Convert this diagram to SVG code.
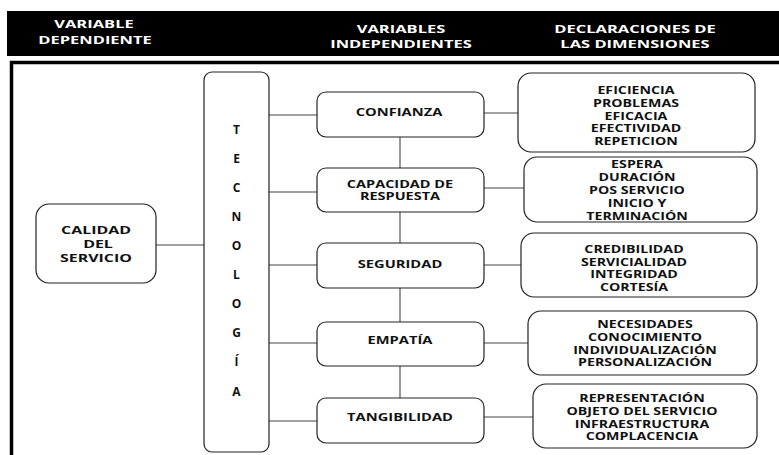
<svg xmlns="http://www.w3.org/2000/svg" width="779" height="455" viewBox="0 0 779 455">
<style>
text{font-family:"Open Sans","DejaVu Sans",sans-serif;font-weight:700;text-anchor:middle;fill:#111}
.h{fill:#fff;font-size:11px}
.c{font-size:11px}
.t{font-size:12px}
.m{font-size:10.5px}
.m2{font-size:10px}
.r{font-size:9.8px}
.box{fill:#fff;stroke:#222;stroke-width:1.2}
.ln{stroke:#444;stroke-width:1.1;fill:none}
</style>
<rect x="0" y="0" width="779" height="455" fill="#fff"/>
<g id="header">
<rect x="7" y="11" width="772" height="45" fill="#000"/>
<text class="h" transform="translate(94,28.3) scale(1.5,1)">VARIABLE</text>
<text class="h" transform="translate(95,44.3) scale(1.5,1)">DEPENDIENTE</text>
<text class="h" transform="translate(401,32.7) scale(1.5,1)">VARIABLES</text>
<text class="h" transform="translate(401,48.3) scale(1.5,1)">INDEPENDIENTES</text>
<text class="h" transform="translate(635,32.7) scale(1.5,1)">DECLARACIONES DE</text>
<text class="h" transform="translate(635,48.3) scale(1.5,1)">LAS DIMENSIONES</text>
</g>
<path id="frame" d="M11.5 455V62.5H779" fill="none" stroke="#000" stroke-width="3.5"/>
<g id="connectors" class="ln">
<line x1="156" y1="245" x2="204" y2="245"/>
<line x1="269" y1="115" x2="317" y2="115"/>
<line x1="269" y1="192" x2="317" y2="192"/>
<line x1="269" y1="265" x2="317" y2="265"/>
<line x1="269" y1="343" x2="317" y2="343"/>
<line x1="269" y1="421" x2="317" y2="421"/>
<line x1="400" y1="137" x2="400" y2="168"/>
<line x1="400" y1="212" x2="400" y2="243"/>
<line x1="400" y1="288" x2="400" y2="322"/>
<line x1="400" y1="366" x2="400" y2="398"/>
<line x1="484" y1="113" x2="518" y2="113"/>
<line x1="484" y1="188" x2="524" y2="188"/>
<line x1="484" y1="265" x2="528" y2="265"/>
<line x1="484" y1="343" x2="528" y2="343"/>
<line x1="484" y1="417" x2="533" y2="417"/>
</g>
<g id="calidad">
<rect class="box" x="36" y="204" width="120" height="79" rx="13"/>
<text class="c" transform="translate(96,233.5) scale(1.45,1)">CALIDAD</text>
<text class="c" transform="translate(98,247.5) scale(1.45,1)">DEL</text>
<text class="c" transform="translate(96,261.5) scale(1.45,1)">SERVICIO</text>
</g>
<g id="tecnologia">
<rect class="box" x="204" y="72" width="65" height="380" rx="8"/>
<text class="t" x="236.5" y="133.5">T</text>
<text class="t" x="236.5" y="162.5">E</text>
<text class="t" x="236.5" y="191.5">C</text>
<text class="t" x="236.5" y="220.5">N</text>
<text class="t" x="236.5" y="249.5">O</text>
<text class="t" x="236.5" y="278.5">L</text>
<text class="t" x="236.5" y="307.5">O</text>
<text class="t" x="236.5" y="336.5">G</text>
<text class="t" x="236.5" y="365.5">Í</text>
<text class="t" x="236.5" y="395.5">A</text>
</g>
<g id="confianza">
<rect class="box" x="317" y="92" width="167" height="45" rx="9"/>
<text class="m" transform="translate(399,116) scale(1.4,1)">CONFIANZA</text>
</g>
<g id="capacidad">
<rect class="box" x="317" y="168" width="167" height="44" rx="9"/>
<text class="m2" transform="translate(400,187.5) scale(1.45,1)">CAPACIDAD DE</text>
<text class="m2" transform="translate(400,200) scale(1.45,1)">RESPUESTA</text>
</g>
<g id="seguridad">
<rect class="box" x="317" y="243" width="167" height="45" rx="9"/>
<text class="m" transform="translate(400,268) scale(1.4,1)">SEGURIDAD</text>
</g>
<g id="empatia">
<rect class="box" x="317" y="322" width="167" height="44" rx="9"/>
<text class="m" transform="translate(400,344) scale(1.4,1)">EMPATÍA</text>
</g>
<g id="tangibilidad">
<rect class="box" x="317" y="398" width="167" height="45" rx="9"/>
<text class="m" transform="translate(400,421) scale(1.4,1)">TANGIBILIDAD</text>
</g>
<g id="dim-confianza">
<rect class="box" x="518" y="73" width="237" height="79" rx="13"/>
<text class="r" transform="translate(636,94) scale(1.45,1)">EFICIENCIA</text>
<text class="r" transform="translate(636,106.5) scale(1.45,1)">PROBLEMAS</text>
<text class="r" transform="translate(636,119.5) scale(1.45,1)">EFICACIA</text>
<text class="r" transform="translate(636,132) scale(1.45,1)">EFECTIVIDAD</text>
<text class="r" transform="translate(636,145) scale(1.45,1)">REPETICION</text>
</g>
<g id="dim-capacidad">
<rect class="box" x="524" y="157" width="233" height="65" rx="13"/>
<text class="r" transform="translate(637,168) scale(1.45,1)">ESPERA</text>
<text class="r" transform="translate(637,181) scale(1.45,1)">DURACIÓN</text>
<text class="r" transform="translate(637,194) scale(1.45,1)">POS SERVICIO</text>
<text class="r" transform="translate(637,207) scale(1.45,1)">INICIO Y</text>
<text class="r" transform="translate(637,219.5) scale(1.45,1)">TERMINACIÓN</text>
</g>
<g id="dim-seguridad">
<rect class="box" x="521" y="233" width="236" height="64" rx="13"/>
<text class="r" transform="translate(634,253) scale(1.45,1)">CREDIBILIDAD</text>
<text class="r" transform="translate(634,265.5) scale(1.45,1)">SERVICIALIDAD</text>
<text class="r" transform="translate(634,278) scale(1.45,1)">INTEGRIDAD</text>
<text class="r" transform="translate(634,291) scale(1.45,1)">CORTESÍA</text>
</g>
<g id="dim-empatia">
<rect class="box" x="528" y="311" width="229" height="64" rx="13"/>
<text class="r" transform="translate(645,328) scale(1.45,1)">NECESIDADES</text>
<text class="r" transform="translate(645,341) scale(1.45,1)">CONOCIMIENTO</text>
<text class="r" transform="translate(645,353.5) scale(1.45,1)">INDIVIDUALIZACIÓN</text>
<text class="r" transform="translate(645,366) scale(1.45,1)">PERSONALIZACIÓN</text>
</g>
<g id="dim-tangibilidad">
<rect class="box" x="533" y="384" width="224" height="64" rx="13"/>
<text class="r" transform="translate(642,402) scale(1.45,1)">REPRESENTACIÓN</text>
<text class="r" transform="translate(642,415) scale(1.45,1)">OBJETO DEL SERVICIO</text>
<text class="r" transform="translate(642,427.5) scale(1.45,1)">INFRAESTRUCTURA</text>
<text class="r" transform="translate(642,440) scale(1.45,1)">COMPLACENCIA</text>
</g>
</svg>
